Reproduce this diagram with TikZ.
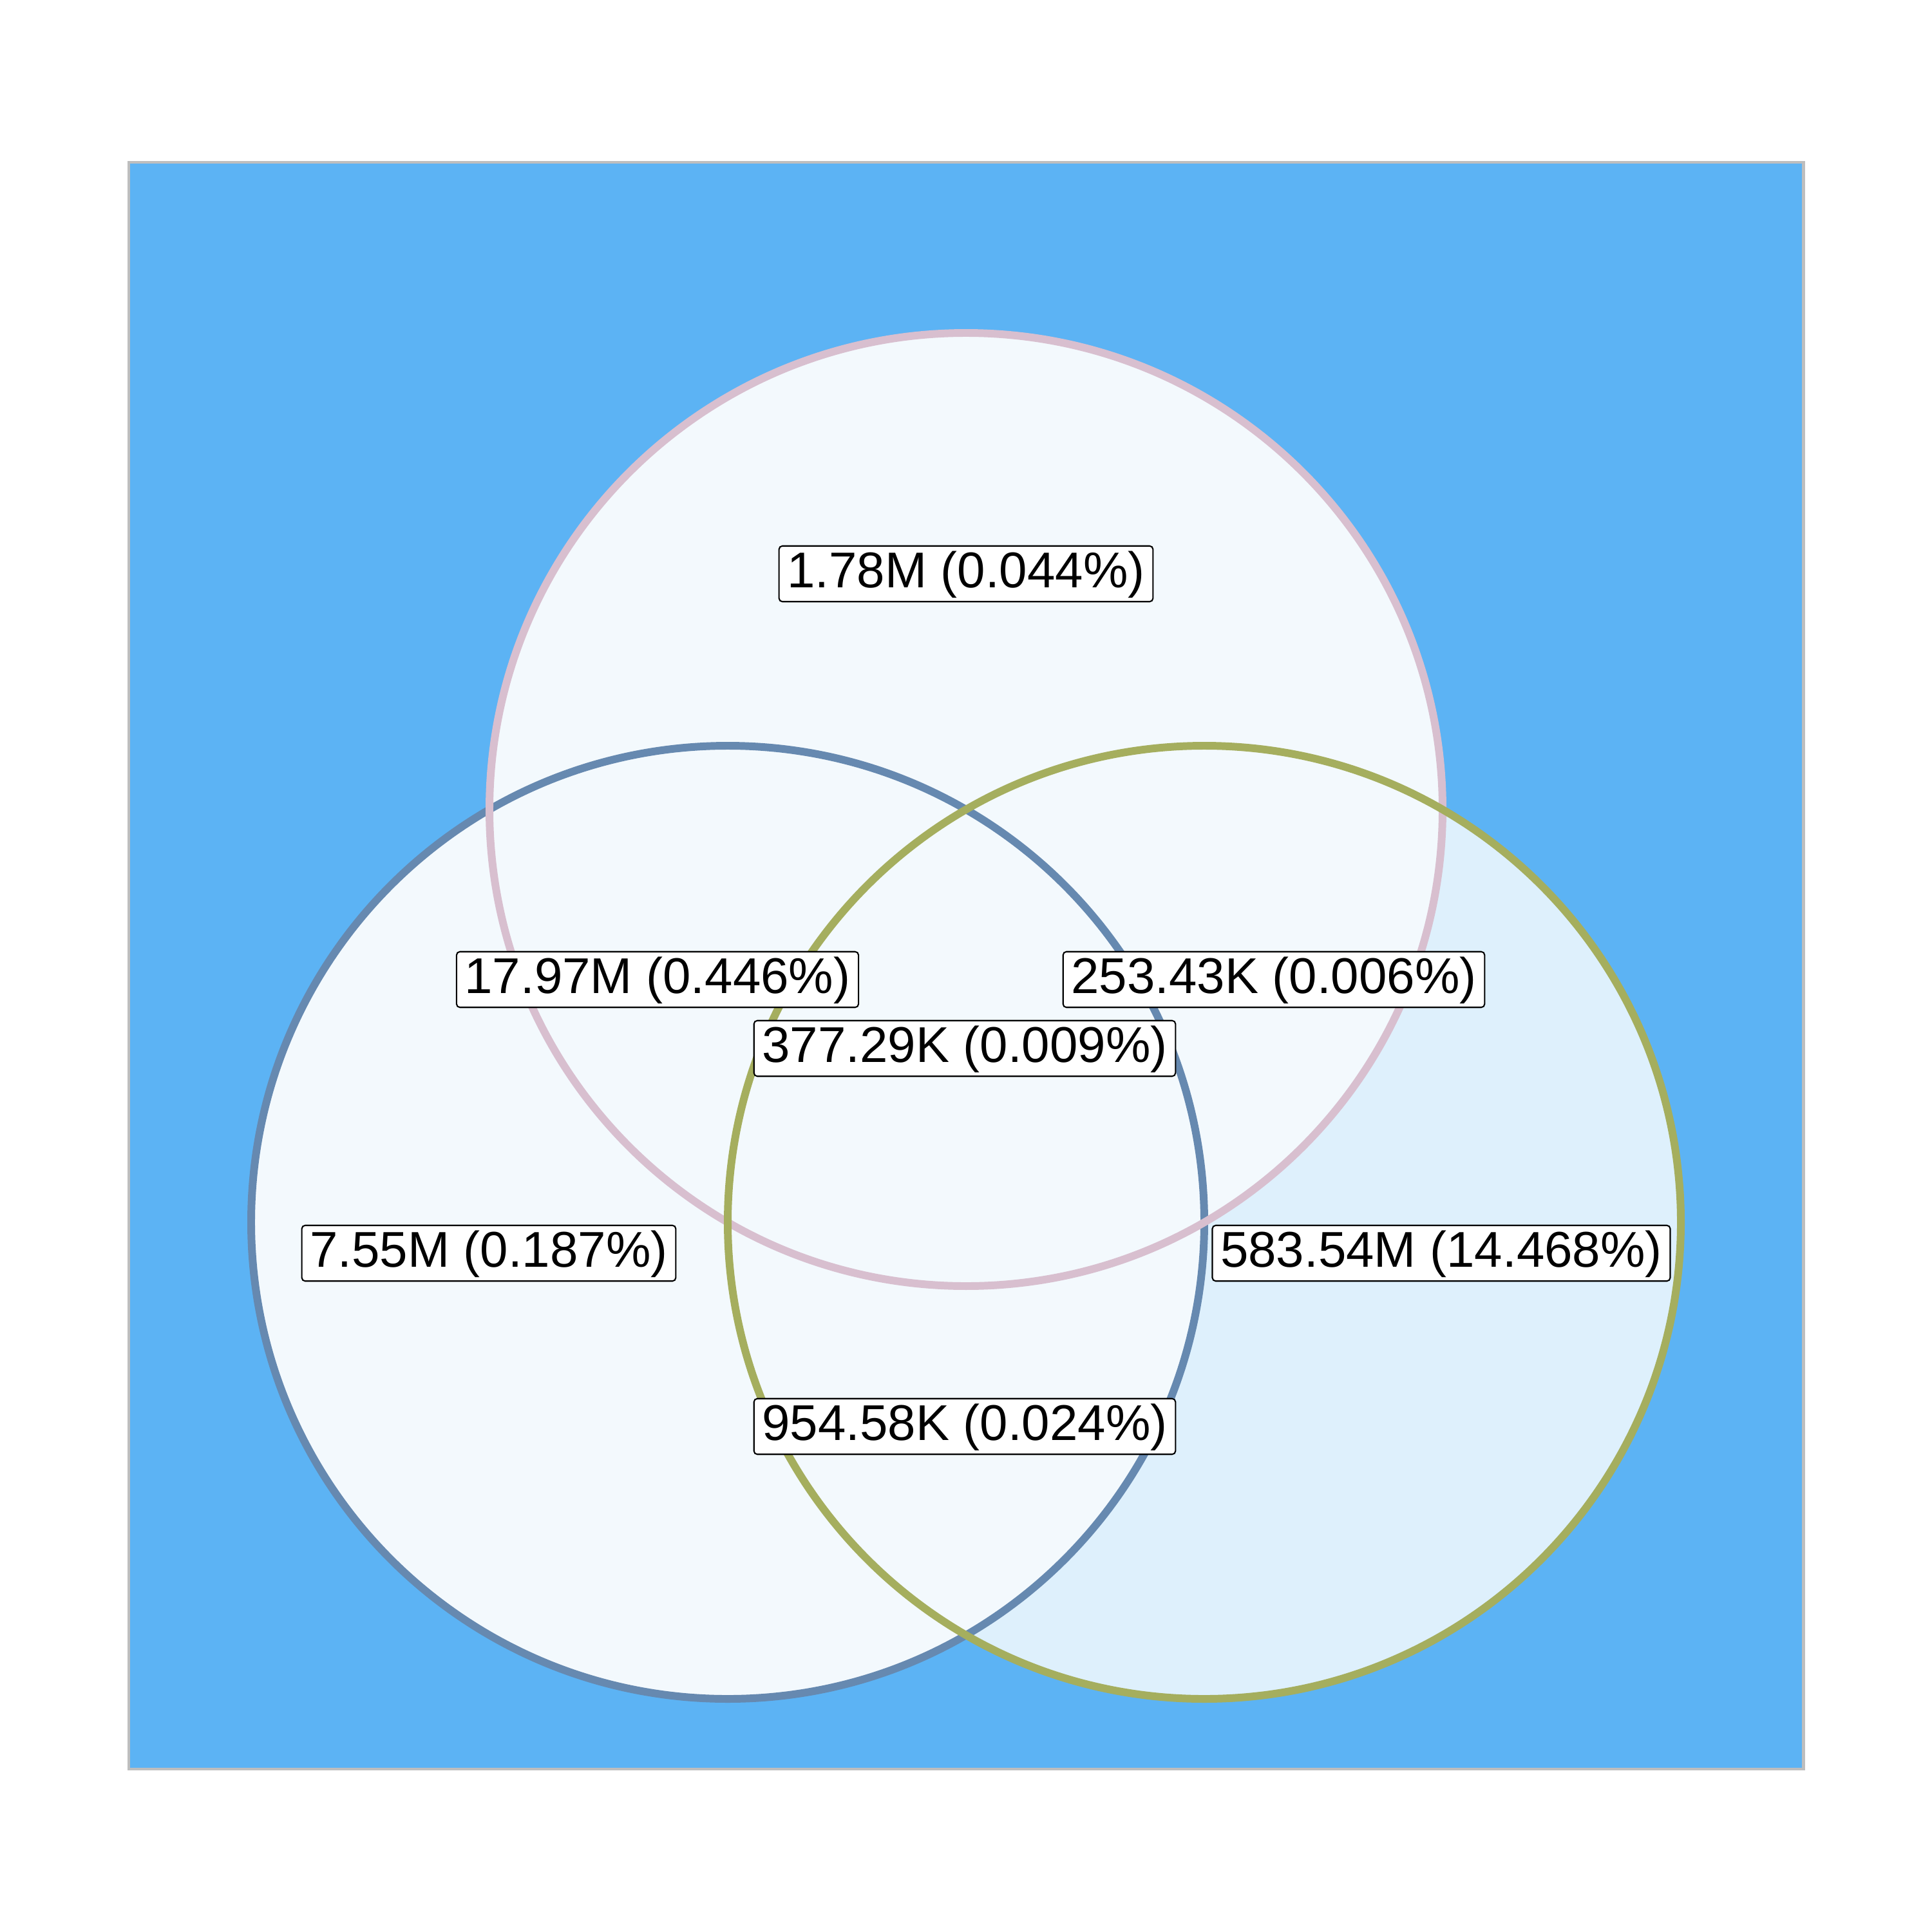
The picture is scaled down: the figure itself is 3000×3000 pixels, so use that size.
\documentclass[tikz,border=0pt]{standalone}
\usepackage{fontspec}
\setmainfont{Liberation Sans}
\definecolor{bgblue}{HTML}{5CB3F4}
\definecolor{framegray}{HTML}{BEBEBE}
\definecolor{regionpale}{HTML}{F3F9FD}
\definecolor{regionlight}{HTML}{DEF0FC}
\definecolor{setblue}{HTML}{6689B0}
\definecolor{setpink}{HTML}{D8BFCF}
\definecolor{setgreen}{HTML}{A5AE5E}
\begin{document}
\begin{tikzpicture}[x=0.01cm,y=-0.01cm,
  setline/.style={line width=3.4pt},
  vlabel/.style={draw=black, line width=0.6pt, fill=white, rounded corners=1.5pt,
    font=\fontsize{22.2}{26}\selectfont, inner xsep=3.6pt, inner ysep=1.4pt,
    text height=16.9pt, text depth=4.9pt}]
\useasboundingbox (0,0) rectangle (3000,3000);
% frame
\draw[framegray, fill=bgblue, line width=1.4pt] (200,252) rectangle (2800,2747);
% region fills
\fill[regionlight] (1870,1898) circle[radius=740];
\fill[regionpale] (1130,1898) circle[radius=740];
\fill[regionpale] (1500,1257) circle[radius=740];
% outlines
\draw[setblue, setline] (1130,1898) circle[radius=740];
\draw[setpink, setline] (1500,1257) circle[radius=740];
\draw[setgreen, setline] (1870,1898) circle[radius=740];
% labels
\node[vlabel] (top) at (1500,891) {1.78M (0.044\%)};
\node[vlabel] (topleft) at (1021,1521) {17.97M (0.446\%)};
\node[vlabel] (topright) at (1978,1521) {253.43K (0.006\%)};
\node[vlabel] (center) at (1498,1628) {377.29K (0.009\%)};
\node[vlabel] (left) at (759,1946) {7.55M (0.187\%)};
\node[vlabel] (right) at (2238,1946) {583.54M (14.468\%)};
\node[vlabel] (bottom) at (1498,2215) {954.58K (0.024\%)};
\end{tikzpicture}
\end{document}
